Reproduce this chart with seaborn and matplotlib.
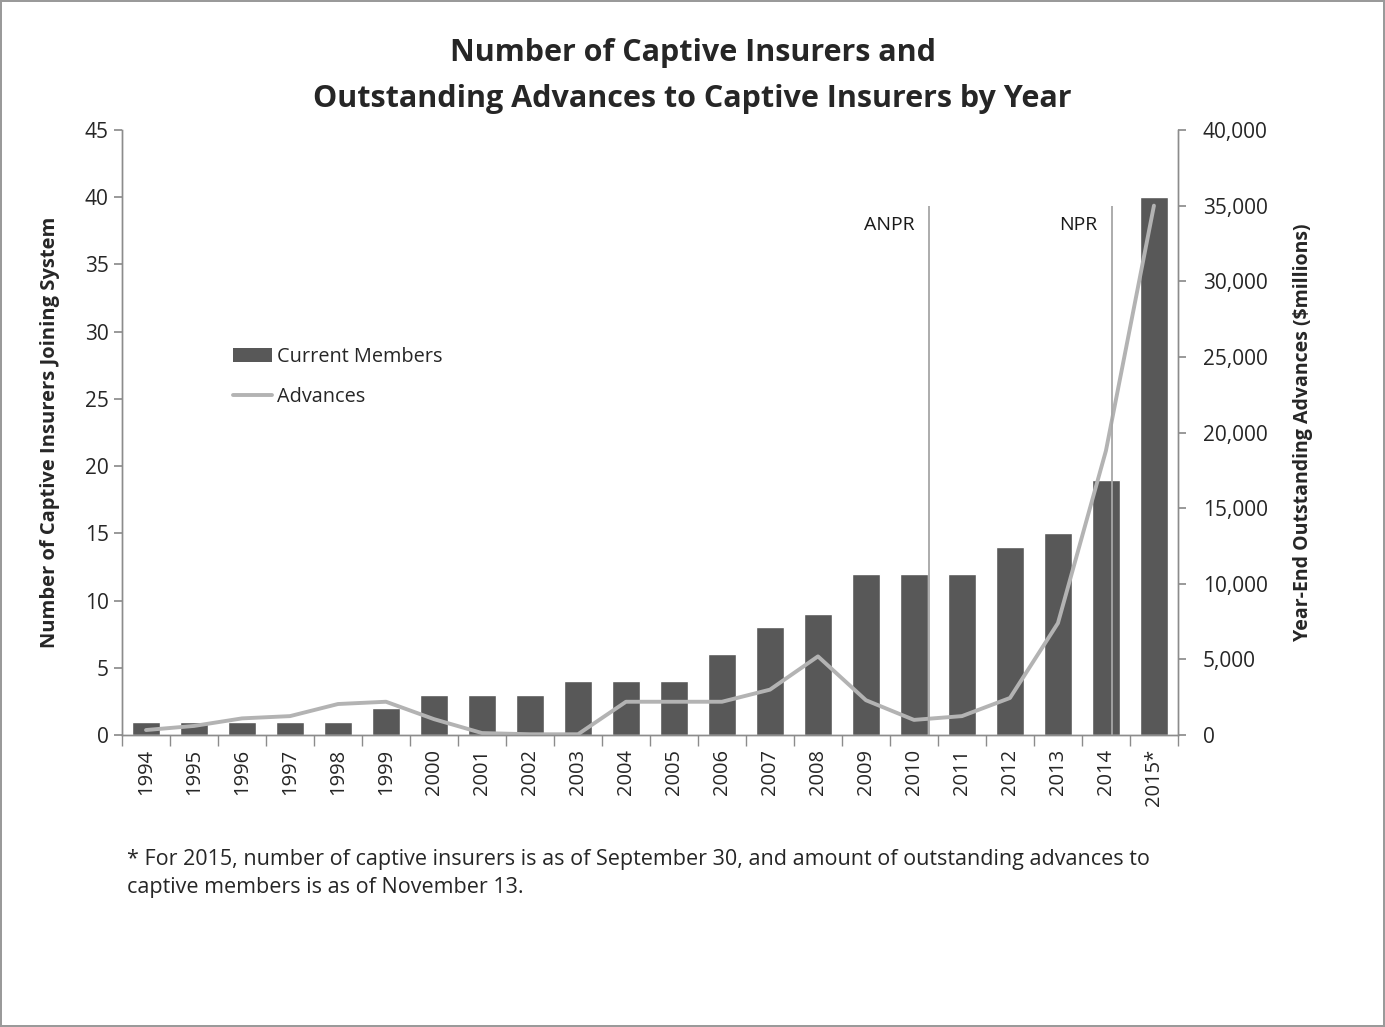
import numpy as np
import pandas as pd
import matplotlib
matplotlib.use("Agg")
import matplotlib.pyplot as plt
from matplotlib.patches import Patch
from matplotlib.lines import Line2D
import seaborn as sns

years = ["1994", "1995", "1996", "1997", "1998", "1999", "2000", "2001", "2002",
         "2003", "2004", "2005", "2006", "2007", "2008", "2009", "2010", "2011",
         "2012", "2013", "2014", "2015*"]
members = [1, 1, 1, 1, 1, 2, 3, 3, 3, 4, 4, 4, 6, 8, 9, 12, 12, 12, 14, 15, 19, 40]
advances = [330, 600, 1100, 1250, 2050, 2200, 1050, 130, 50, 50, 2200, 2200, 2200,
            3000, 5200, 2300, 1000, 1250, 2450, 7400, 18800, 35000]

# regulatory milestones (between categories)
events = ["ANPR", "NPR"]
event_pos = [16.31, 20.12]
event_top = 35000

sns.set_theme(style="white")
plt.rcParams["font.family"] = ["Open Sans", "DejaVu Sans"]

bar_color = "#585858"
line_color = "#b3b3b3"
axis_color = "#8c8c8c"

df = pd.DataFrame({"Year": years, "Members": members, "Advances": advances})
df["pos"] = np.arange(len(df))

fig = plt.figure(figsize=(13.85, 10.27), dpi=100)
fig.patch.set_edgecolor("#9a9a9a")
fig.patch.set_linewidth(1.5)
ax = fig.add_axes([0.0881, 0.2843, 0.7624, 0.5891])

sns.barplot(data=df, x="Year", y="Members", color=bar_color, width=0.57,
            saturation=1, ax=ax)
ax.set_xlim(-0.5, len(years) - 0.5)
ax.set_ylim(0, 45)
ax.set_yticks(range(0, 46, 5))
ax.set_xlabel("")
ax.set_ylabel("Number of Captive Insurers Joining System", fontsize=14.5,
              fontweight="bold", labelpad=18)
ax.tick_params(axis="x", which="major", length=0, labelrotation=90,
               labelsize=14.5, pad=10)
ax.set_xticks(np.arange(-0.5, len(years), 1), minor=True)
ax.tick_params(axis="x", which="minor", length=8, color=axis_color, width=1,
               bottom=True)
ax.tick_params(axis="y", length=6, color=axis_color, labelsize=15, left=True)

ax2 = ax.twinx()
sns.lineplot(data=df, x="pos", y="Advances", color=line_color, linewidth=2.8,
             ax=ax2)
ax2.vlines(event_pos, 0, event_top, color="#a6a6a6", linewidth=1.3)
for name, p in zip(events, event_pos):
    ax2.text(p - 0.3, 33700, name, ha="right", va="center", fontsize=14,
             color="#1a1a1a")
ax2.set_ylim(0, 40000)
ax2.set_yticks(range(0, 40001, 5000))
ax2.set_yticklabels([f"{v:,}" for v in range(0, 40001, 5000)])
ax2.set_xlabel("")
ax2.set_ylabel("Year-End Outstanding Advances ($millions)", fontsize=14,
               fontweight="bold", labelpad=18)
ax2.tick_params(axis="y", length=6, color=axis_color, labelsize=15, right=True,
                pad=12)
ax2.set_xlim(-0.5, len(years) - 0.5)

for a in (ax, ax2):
    a.spines["top"].set_visible(False)
    for s in ("left", "right", "bottom"):
        a.spines[s].set_color(axis_color)
        a.spines[s].set_linewidth(1)

handles = [Patch(facecolor=bar_color, edgecolor="none"),
           Line2D([0], [0], color=line_color, linewidth=2.8)]
fig.legend(handles, ["Current Members", "Advances"], loc="upper left",
           bbox_to_anchor=(0.155, 0.680), frameon=False, fontsize=14.3,
           handlelength=2.0, handletextpad=0.25, labelspacing=1.05)

fig.text(0.5, 0.963, "Number of Captive Insurers and\nOutstanding Advances to Captive Insurers by Year",
         ha="center", va="top", fontsize=22, fontweight="bold",
         linespacing=1.7)

fig.text(0.0917, 0.173,
         "* For 2015, number of captive insurers is as of September 30, and amount of outstanding advances to\n"
         "captive members is as of November 13.",
         ha="left", va="top", fontsize=15.5, linespacing=1.42)

fig.savefig("out.png", dpi=100, edgecolor=fig.get_edgecolor())
